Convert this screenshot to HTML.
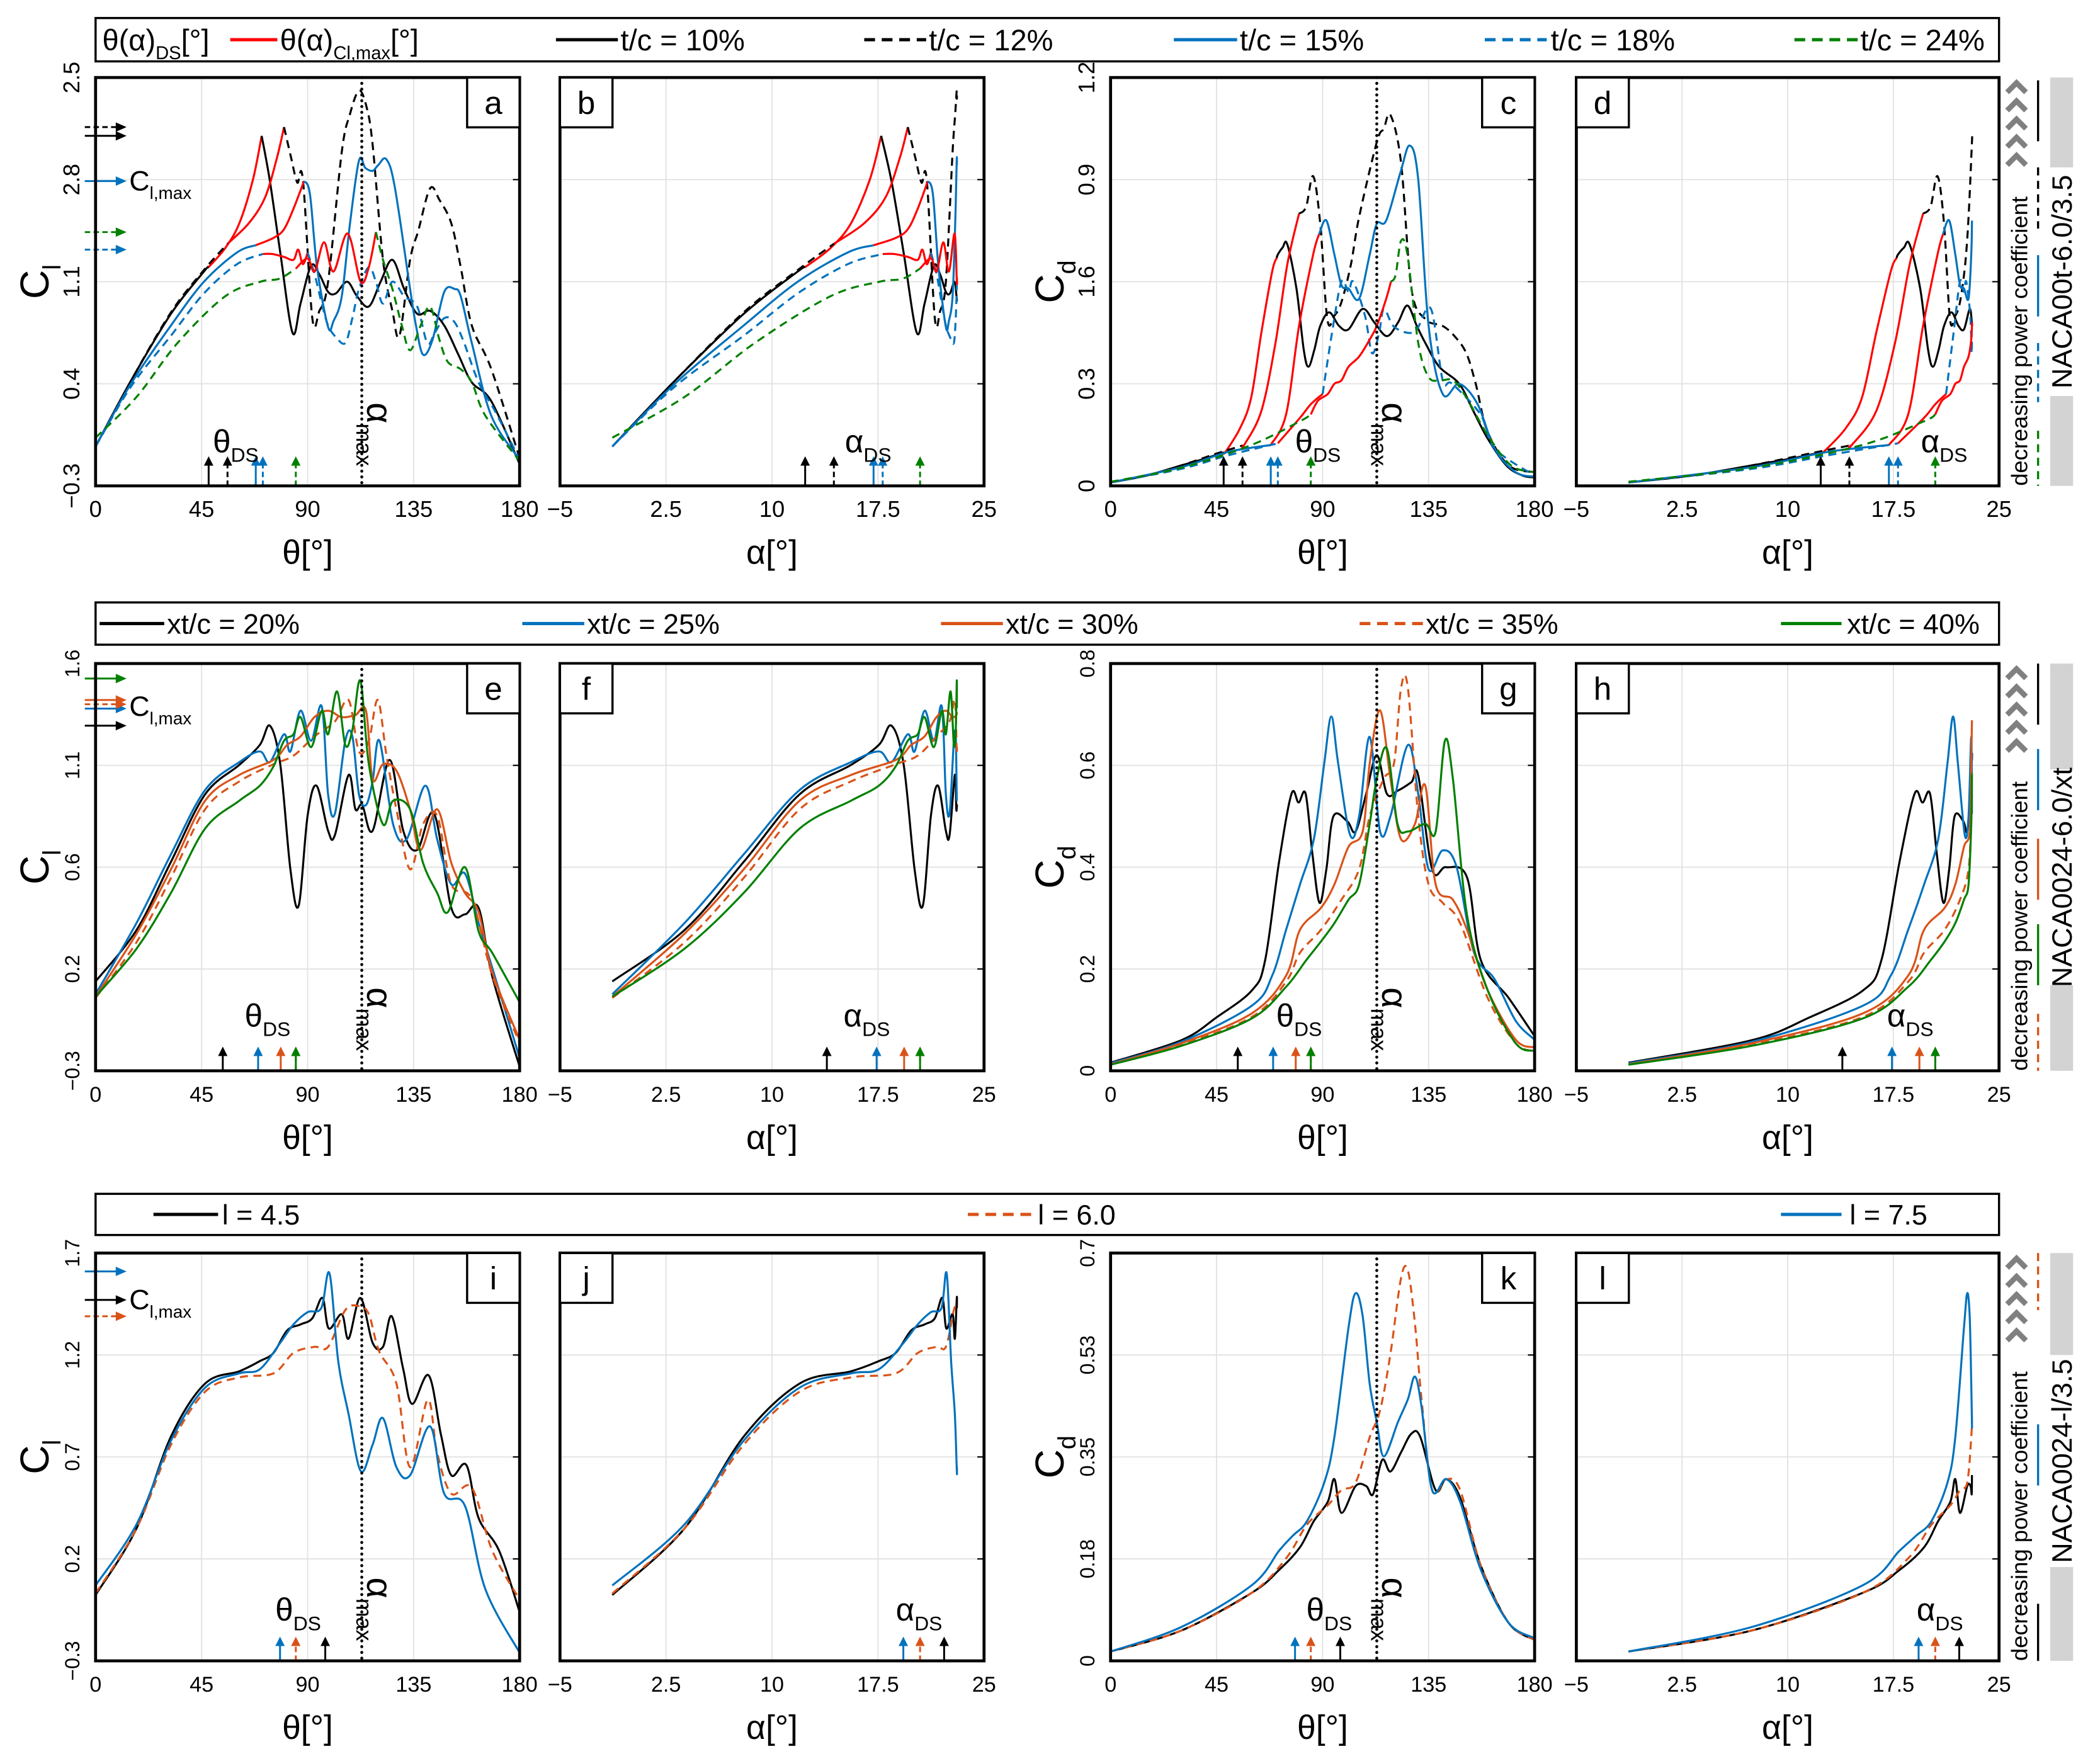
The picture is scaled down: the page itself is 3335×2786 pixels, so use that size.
<!DOCTYPE html>
<html>
<head>
<meta charset="utf-8">
<style>
html,body{margin:0;padding:0;background:#fff;}
svg{display:block;font-family:"Liberation Sans",Arial,sans-serif;}
</style>
</head>
<body>
<svg id="fig" xmlns="http://www.w3.org/2000/svg" width="3335" height="2786" viewBox="0 0 1560 1303.2" preserveAspectRatio="none">
<rect x="0" y="0" width="1560" height="1303.2" fill="#fff"/>
</svg>
<script>
// ===================== DATA =====================
// Row 1 (t/c variation) - lift coefficient vs azimuth theta
const cl_t10_th = [0,15,32,46,48,55,61,66.8,70.5,74,78.4,83.6,87,91.5,95,98.7,102,106.8,111,116,121,126,131,136.5,142,148,154,159.7,168,180];
const cl_t10 = [-0.03,0.42,0.88,1.17,1.2,1.33,1.5,1.8,2.1,1.79,1.3,0.75,0.95,1.21,1.15,1.03,1.02,1.1,1.0,0.93,1.1,1.25,1.05,0.88,0.9,0.8,0.6,0.41,0.28,-0.15];
const cl_t12_th = [0,15,32,46,56,65,72,77,80,83,85.6,88,92,95,98.7,104.5,108,111.8,115,117.6,122,126,129,133.5,137,142,146,151,155,159.7,168,180];
const cl_t12 = [-0.03,0.42,0.89,1.18,1.36,1.5,1.68,1.95,2.16,1.95,1.78,1.8,0.85,0.9,1.1,1.99,2.25,2.41,2.3,2.04,1.25,0.9,0.73,1.25,1.45,1.74,1.66,1.5,1.2,0.8,0.5,-0.11];
const cl_t15_th = [0,15,32,46,60,68,75.5,80,84,88.5,91,94,98.7,101,104.5,108,111.8,114.5,117.6,120,123.4,127,133.5,136,139,143,148,152.4,155,159.7,168,180];
const cl_t15 = [-0.03,0.4,0.8,1.1,1.3,1.35,1.4,1.46,1.6,1.79,1.7,1.2,0.79,0.83,1.0,1.5,1.93,1.88,1.86,1.9,1.94,1.75,1.05,0.8,0.6,0.7,1.03,1.05,1.0,0.68,0.18,-0.12];
const cl_t18_th = [0,15,32,46,60,71,75,80,84,86,88,90,93,96,98.7,102,106,109,111.8,116,119,122,126,131,136.5,140.8,144,148,152,156,162.6,170,180];
const cl_t18 = [-0.03,0.38,0.73,1.02,1.22,1.29,1.29,1.27,1.25,1.32,1.22,1.3,1.15,0.95,0.8,0.72,0.68,0.85,1.05,1.2,1.1,0.95,1.1,1.0,0.93,0.68,0.75,0.85,0.83,0.7,0.41,0.2,-0.12];
const cl_t24_th = [0,17.4,34.8,55,70,78,85,90,93,97,101,107,112.5,116,119,122,126,130,133.5,138,142,146,149.5,155,159.7,165.5,180];
const cl_t24 = [0.03,0.31,0.68,1.0,1.1,1.12,1.19,1.26,1.17,1.37,1.17,1.43,1.1,1.2,1.44,1.25,1.05,0.8,0.63,0.8,0.93,0.7,0.55,0.5,0.41,0.18,-0.13];
// Row 1 - drag coefficient
const cd_t10_th = [0,15,30,40,48.8,55,59.7,64,68.6,71,73,75,78.9,82,84,86.5,89,92.8,97,101,107,112,117.3,122,126,130,133.6,139.5,148,154,160,168,175,180];
const cd_t10 = [0.01,0.03,0.06,0.08,0.1,0.17,0.26,0.45,0.63,0.68,0.7,0.71,0.58,0.4,0.35,0.4,0.47,0.51,0.47,0.46,0.52,0.48,0.44,0.48,0.53,0.47,0.42,0.35,0.3,0.22,0.14,0.06,0.03,0.025];
const cd_t12_th = [0,15,30,45,56.7,64,70,75,80,83,86,89,92,95,98,102,105.5,113,116,118.8,123.3,127.7,133.6,141,146,151,155,160,169,180];
const cd_t12 = [0.01,0.03,0.06,0.095,0.12,0.22,0.42,0.65,0.8,0.82,0.91,0.77,0.49,0.5,0.54,0.65,0.79,1.01,1.05,1.09,0.95,0.58,0.49,0.47,0.44,0.39,0.3,0.16,0.06,0.04];
const cd_t15_th = [0,30,50,68,74.5,80,86,88.5,91.6,95,98,101,105.5,110,113,117,123,127,130.6,135,141,148,155.8,163,172,180];
const cd_t15 = [0.01,0.055,0.1,0.12,0.21,0.47,0.68,0.74,0.78,0.68,0.59,0.58,0.55,0.68,0.77,0.78,0.92,1.0,0.9,0.47,0.27,0.3,0.24,0.11,0.04,0.027];
const cd_t18_th = [0,30,50,71,80.4,85,90,94,98,101,103,108,111,114,116,120,126,130,136,141,145,157,163,180];
const cd_t18 = [0.01,0.05,0.09,0.125,0.2,0.24,0.27,0.45,0.6,0.57,0.6,0.5,0.39,0.45,0.52,0.47,0.45,0.46,0.52,0.31,0.3,0.21,0.11,0.03];
const cd_t24_th = [0,30,59.7,80.4,85,88,92.2,95,98,101,105.5,110,113,117,119,121,123.3,126,130.6,135,140,145.4,151,160,170,180];
const cd_t24 = [0.012,0.053,0.12,0.19,0.21,0.25,0.27,0.3,0.31,0.35,0.38,0.43,0.47,0.55,0.6,0.62,0.72,0.68,0.42,0.32,0.31,0.31,0.26,0.15,0.06,0.04];
const ds_row1 = [48,56,68,71,85];
const clmaxTheta_row1 = [70.5,80,88.5,90,119];
const clmaxVal_row1 = [2.10,2.16,1.79,1.32,1.44];

// Row 2 (xt/c variation)
const e_x20_th = [0,17.4,32,46.5,61,69.7,74,78.4,82.7,86.2,90,93.8,98.7,101.6,107.4,110.3,113.2,117.6,124.8,130.6,136.5,143.7,151,156.8,162.6,168.4,180];
const e_x20 = [0.117,0.357,0.675,0.99,1.127,1.22,1.31,1.13,0.64,0.47,0.89,1.03,0.82,0.8,1.08,0.92,0.94,0.82,1.15,0.82,0.73,0.9,0.46,0.43,0.46,0.14,-0.28];
const e_x25_th = [0,17.4,32,46.5,61,69.7,74,80,82.7,87,91.5,96,98.7,101.6,106,109,111.8,114.8,117.6,120.5,126.3,132,140,145,151,156.8,162.6,168.4,180];
const e_x25 = [0.057,0.39,0.71,1.01,1.14,1.19,1.14,1.27,1.19,1.38,1.24,1.4,0.99,0.9,1.24,1.26,0.99,0.94,1.05,1.24,0.85,0.78,1.03,0.78,0.57,0.62,0.39,0.18,-0.24];
const e_x30_th = [0,17.4,32,46.5,61,75.5,81.3,87,92.9,98.7,104.5,110.3,114.8,117.6,122,127.7,133.5,137.9,145,151,156.8,162.6,168.4,180];
const e_x30 = [0.046,0.34,0.64,0.96,1.08,1.15,1.22,1.26,1.35,1.38,1.35,1.36,1.38,1.06,1.13,1.1,0.92,0.73,0.92,0.67,0.53,0.44,0.16,-0.155];
const e_x35_th = [0,17.4,32,46.5,61,75.5,84,92.9,101.6,107.4,111.8,116,119.8,123.5,127.7,133.5,139,145,151,159.7,168.4,180];
const e_x35 = [0.04,0.3,0.6,0.92,1.05,1.13,1.17,1.26,1.33,1.43,1.19,1.24,1.43,1.17,0.92,0.64,0.85,0.89,0.57,0.5,0.145,-0.17];
const e_x40_th = [0,17.4,32,46.5,61,69.7,75.5,80,84,87,91.5,96,98.7,102.5,106,109,112.4,116,122,126.3,133.5,139,145,149.5,156.8,162.6,168.4,180];
const e_x40 = [0.046,0.27,0.53,0.83,0.96,1.03,1.12,1.24,1.27,1.35,1.21,1.38,1.27,1.47,1.22,1.29,1.52,1.13,0.85,0.96,0.92,0.67,0.53,0.44,0.65,0.35,0.25,0.02];
const g_x20_th = [0,30,45,60,65.6,71.5,76.8,79.8,82.8,85.7,88.7,91.6,94.6,100.5,104,108.5,113,117.3,121.8,127.7,130.6,136.5,142.4,151.3,157.2,169,180];
const g_x20 = [0.016,0.06,0.105,0.158,0.217,0.41,0.544,0.527,0.544,0.425,0.33,0.396,0.5,0.49,0.47,0.544,0.62,0.544,0.55,0.567,0.58,0.396,0.4,0.38,0.217,0.143,0.068];
const g_x25_th = [0,30,60,68.6,74.5,80.4,86.3,90.7,93.7,96.6,101.7,105.5,110,114.4,118.8,126.2,130.6,135,141,146.9,154.3,163,172,180];
const g_x25 = [0.015,0.057,0.128,0.187,0.277,0.366,0.455,0.604,0.696,0.604,0.463,0.5,0.656,0.47,0.5,0.64,0.544,0.396,0.433,0.4,0.232,0.18,0.098,0.061];
const g_x30_th = [0,30,60,74.5,80.4,89.3,95,101,107,110,114.4,118.8,123.3,129.2,133.6,138,145.3,151.3,160.1,172,180];
const g_x30 = [0.013,0.054,0.113,0.187,0.277,0.32,0.366,0.44,0.47,0.604,0.708,0.574,0.455,0.485,0.56,0.366,0.336,0.277,0.158,0.061,0.046];
const g_x35_th = [0,30,60,74.5,80.4,89.3,98,105.5,110,116,120.3,123.3,126.2,130.6,135,141,148.4,160.1,172,180];
const g_x35 = [0.012,0.051,0.106,0.175,0.232,0.277,0.336,0.396,0.5,0.574,0.604,0.752,0.752,0.5,0.366,0.33,0.29,0.143,0.054,0.039];
const g_x40_th = [0,30,60,74.5,83,89.3,95,101,105.5,110,113,117.3,121.8,126.2,133.6,138,141.9,145.3,151.3,160.1,172,180];
const g_x40 = [0.012,0.049,0.103,0.165,0.217,0.254,0.29,0.336,0.366,0.485,0.574,0.633,0.485,0.47,0.485,0.47,0.648,0.574,0.306,0.158,0.054,0.039];
const ds_row2 = [54,69,78.6,85,85];
const clmaxVal_row2 = [1.31,1.39,1.43,1.41,1.53];

// Row 3 (l variation)
const i_l45_th = [0,17.4,32,46.5,61,69.7,75.5,81.3,87,92,96.3,99,104.5,107.4,112.4,117.6,122,125.7,130.6,134.4,141.4,146.6,151,157.4,162.6,171.3,180];
const i_l45 = [0.023,0.35,0.8,1.06,1.12,1.17,1.21,1.32,1.35,1.38,1.48,1.33,1.4,1.28,1.48,1.26,1.24,1.39,1.13,0.96,1.1,0.81,0.61,0.66,0.4,0.24,-0.06];
const i_l60_th = [0,17.4,32,46.5,61,75.5,84,92.9,98.7,106,111.8,116,120.3,127.7,133.5,141,145,151,159.7,168.4,180];
const i_l60 = [0.03,0.35,0.76,1.02,1.09,1.11,1.21,1.24,1.24,1.42,1.44,1.4,1.22,1.06,0.65,0.98,0.72,0.52,0.55,0.24,0.0];
const i_l75_th = [0,17.4,32,46.5,61,69.7,78.4,84,90,95.8,99.3,103,107.4,112.6,117.6,122,127.7,133.5,142,148,156.8,165.5,180];
const i_l75 = [0.07,0.37,0.78,1.04,1.11,1.13,1.26,1.35,1.41,1.43,1.6,1.17,0.91,0.63,0.76,0.89,0.65,0.61,0.85,0.52,0.46,0.05,-0.26];
const k_l45_th = [0,30,60,71.5,80.4,86.3,92.2,95,98,104,108.5,111.4,115.3,118.8,123.3,127.7,131.5,138,142.5,148.4,157.2,169,180];
const k_l45 = [0.016,0.052,0.117,0.156,0.195,0.24,0.273,0.312,0.254,0.3,0.3,0.286,0.345,0.325,0.358,0.39,0.384,0.293,0.312,0.28,0.163,0.065,0.036];
const k_l60_th = [0,30,60,74.5,83.4,92.2,98,104,110,114.4,118.8,123.3,126.2,129.2,132,136.5,142.5,148.4,157.2,169,180];
const k_l60 = [0.016,0.052,0.117,0.176,0.234,0.267,0.293,0.306,0.384,0.43,0.527,0.657,0.67,0.579,0.449,0.293,0.312,0.293,0.163,0.065,0.036];
const k_l75_th = [0,30,60,71.5,77.4,83.4,90.7,95,101,104,107,110,113,116,122,126.2,129.2,132,136.5,142.5,148.4,157.2,169,180];
const k_l75 = [0.016,0.058,0.13,0.189,0.215,0.24,0.306,0.384,0.572,0.631,0.592,0.475,0.41,0.351,0.41,0.449,0.488,0.436,0.293,0.312,0.273,0.156,0.065,0.039];
const ds_row3 = [97.5,85,78.3];
const clmaxVal_row3 = [1.47,1.39,1.61];

// Axis tick labels
const thetaTicks = [0,45,90,135,180];
const alphaTicks = [-5,2.5,10,17.5,25];
const alphaTickLabels = ["\u22125","2.5","10","17.5","25"];
const yLabels_row1_cl = ["\u22120.3","0.4","1.1","2.8","2.5"];
const yLabels_row1_cd = ["0","0.3","1.6","0.9","1.2"];
const yLabels_row2_cl = ["\u22120.3","0.2","0.6","1.1","1.6"];
const yLabels_row2_cd = ["0","0.2","0.4","0.6","0.8"];
const yLabels_row3_cl = ["\u22120.3","0.2","0.7","1.2","1.7"];
const yLabels_row3_cd = ["0","0.18","0.35","0.53","0.7"];
const LAMBDA = 2.5;

// ===================== RENDER =====================
const NS = 'http://www.w3.org/2000/svg';
const svg = document.getElementById('fig');
const BLUE = '#0072BD', ORANGE = '#D95319', GREEN = '#008000', RED = '#FF0000';
const DASH = '6,4';
const THETA_AMAX = Math.acos(-1 / LAMBDA) * 180 / Math.PI;
const ALPHA_MAX_RAW = Math.asin(1 / LAMBDA) * 180 / Math.PI;
function alphaOf(th) {
  const r = th * Math.PI / 180;
  const a = Math.atan2(Math.sin(r), LAMBDA + Math.cos(r)) * 180 / Math.PI;
  return a - 1.3 + 0.8 * a / ALPHA_MAX_RAW;
}
function mk(tag, attrs, parent) {
  const e = document.createElementNS(NS, tag);
  for (const k in attrs) e.setAttribute(k, attrs[k]);
  (parent || svg).appendChild(e);
  return e;
}
function rich(parent, x, y, parts, size, anchor, transform) {
  const t = mk('text', {x: x, y: y, 'font-size': size, 'text-anchor': anchor || 'start', fill: '#000'}, parent);
  if (transform) t.setAttribute('transform', transform);
  let sub = false;
  parts.forEach(p => {
    const s = mk('tspan', {}, t);
    if (p.sub && !sub) { s.setAttribute('dy', size * 0.3); sub = true; }
    else if (!p.sub && sub) { s.setAttribute('dy', -size * 0.3); sub = false; }
    if (p.sub) s.setAttribute('font-size', size * 0.62);
    s.textContent = p.t;
  });
  return t;
}
function smooth(pts) {
  if (pts.length < 2) return '';
  let d = 'M' + pts[0][0].toFixed(2) + ',' + pts[0][1].toFixed(2);
  for (let i = 0; i < pts.length - 1; i++) {
    const p0 = pts[i - 1] || pts[i], p1 = pts[i], p2 = pts[i + 1], p3 = pts[i + 2] || p2;
    const c1 = [p1[0] + (p2[0] - p0[0]) / 6, p1[1] + (p2[1] - p0[1]) / 6];
    const c2 = [p2[0] - (p3[0] - p1[0]) / 6, p2[1] - (p3[1] - p1[1]) / 6];
    d += 'C' + c1[0].toFixed(2) + ',' + c1[1].toFixed(2) + ' ' + c2[0].toFixed(2) + ',' + c2[1].toFixed(2) + ' ' + p2[0].toFixed(2) + ',' + p2[1].toFixed(2);
  }
  return d;
}
function interp(th, v, t) {
  for (let i = 0; i < th.length - 1; i++) {
    if (t >= th[i] && t <= th[i + 1]) {
      const f = (t - th[i]) / (th[i + 1] - th[i] || 1);
      return v[i] + f * (v[i + 1] - v[i]);
    }
  }
  return v[v.length - 1];
}
function range(th, v, lo, hi) {
  const out = [[lo, interp(th, v, lo)]];
  for (let i = 0; i < th.length; i++) if (th[i] > lo && th[i] < hi) out.push([th[i], v[i]]);
  out.push([hi, interp(th, v, hi)]);
  return out;
}

const ROWS = [
  {ly0: 13.4, ly1: 45.6, y0: 57.6, y1: 361, arrow: 22, lab: 25},
  {ly0: 447.6, ly1: 479, y0: 493, y1: 795.6, arrow: 18, lab: 33},
  {ly0: 887, ly1: 917.6, y0: 931, y1: 1234, arrow: 18, lab: 30}
];
const COLS = [[71, 386], [416, 731], [825, 1140], [1171, 1485]];

function drawPanel(p) {
  const row = ROWS[p.row];
  const x0 = COLS[p.col][0], x1 = COLS[p.col][1], y0 = row.y0, y1 = row.y1;
  const isTheta = p.kind === 'theta';
  const xMin = isTheta ? 0 : -5, xMax = isTheta ? 180 : 25;
  const X = v => x0 + (v - xMin) / (xMax - xMin) * (x1 - x0);
  const Y = v => y1 - (v - p.yMin) / (p.yMax - p.yMin) * (y1 - y0);
  const g = mk('g', {});
  
  
  const ticks = isTheta ? thetaTicks : alphaTicks;
  ticks.forEach((t, i) => {
    const gl = mk('line', {x1: X(t), x2: X(t), y1: y0, y2: y1, stroke: '#e3e3e3', 'stroke-width': 0.9}, g);
    
    
    const tl = mk('text', {x: X(t), y: y1 + 23, 'font-size': p.row === 0 ? 17 : 16, 'text-anchor': 'middle'}, g);
    tl.textContent = isTheta ? String(t) : alphaTickLabels[i];
    
    
  });
  p.yLabels.forEach((lab, i) => {
    const yy = y1 - i / 4 * (y1 - y0);
    const gl = mk('line', {x1: x0, x2: x1, y1: yy, y2: yy, stroke: '#e3e3e3', 'stroke-width': 0.9}, g);
    
    
    const tk = mk('line', {x1: x1 - 5, x2: x1, y1: yy, y2: yy, stroke: '#000', 'stroke-width': 1}, g);
    
    
    if (isTheta) {
      const tl = mk('text', {x: 0, y: 0, 'font-size': p.row === 0 ? 17 : 15, 'text-anchor': 'middle', transform: 'translate(' + (x0 - 12) + ',' + yy + ') rotate(-90)'}, g);
      tl.textContent = lab;
      
      
    }
  });
  const cp = mk('clipPath', {id: 'clip-' + p.letter}, g);
  mk('rect', {x: x0, y: y0 - 2, width: x1 - x0, height: y1 - y0 + 2}, cp);
  const cg = mk('g', {'clip-path': 'url(#clip-' + p.letter + ')'}, g);
  
  
  if (isTheta) {
    const dl = mk('line', {x1: X(113), x2: X(113), y1: y0, y2: y1, stroke: '#000', 'stroke-width': 2.2, 'stroke-dasharray': '0.1,4.2', 'stroke-linecap': 'round'}, g);
    
    
    const am = rich(g, 0, 0, [{t: '\u03b1'}, {t: 'max', sub: true}], 27, 'start', 'translate(' + (X(113) + 4) + ',' + (y1 - 62) + ') rotate(90)');
    
    
  }
  const tEnd = isTheta ? 180 : THETA_AMAX;
  const toXY = pts => pts.map(q => [X(isTheta ? q[0] : alphaOf(q[0])), Y(q[1])]);
  p.series.forEach((s, si) => {
    const segs = [];
    if (s.red) {
      const a = s.red[0], b = Math.min(s.red[1], tEnd);
      segs.push({pts: range(s.th, s.v, 0, a), red: false});
      segs.push({pts: range(s.th, s.v, a, b), red: true});
      if (b < tEnd) segs.push({pts: range(s.th, s.v, b, tEnd), red: false});
    } else {
      segs.push({pts: range(s.th, s.v, 0, tEnd), red: false});
    }
    segs.forEach(sg => {
      const path = mk('path', {d: smooth(toXY(sg.pts)), fill: 'none', stroke: sg.red ? RED : s.color, 'stroke-width': 1.5, 'stroke-linejoin': 'round'}, cg);
      if (s.dash && !sg.red) path.setAttribute('stroke-dasharray', DASH);
      
      
    });
  });
  p.series.forEach((s, si) => {
    const ds = p.ds[si];
    const ax = X(isTheta ? ds : alphaOf(ds));
    const top = y1 - row.arrow;
    const ln = mk('line', {x1: ax, x2: ax, y1: y1, y2: top + 5, stroke: s.color, 'stroke-width': 1.4}, g);
    if (s.dash) ln.setAttribute('stroke-dasharray', '4,2.5');
    
    
    const hd = mk('polygon', {points: (ax - 3.5) + ',' + (top + 7) + ' ' + (ax + 3.5) + ',' + (top + 7) + ' ' + ax + ',' + top, fill: s.color}, g);
    
    
  });
  const dl = rich(g, X(p.dsLabelAt), y1 - row.lab, [{t: isTheta ? '\u03b8' : '\u03b1'}, {t: 'DS', sub: true}], 24, 'middle');
  
  
  if (p.clmax) {
    p.series.forEach((s, si) => {
      const yy = Y(p.clmax[si]);
      const ln = mk('line', {x1: x0 - 8, x2: x0 + 16, y1: yy, y2: yy, stroke: s.color, 'stroke-width': 1.4}, g);
      if (s.dash) ln.setAttribute('stroke-dasharray', '4,2.5');
      
      
      const hd = mk('polygon', {points: (x0 + 15) + ',' + (yy - 3.5) + ' ' + (x0 + 15) + ',' + (yy + 3.5) + ' ' + (x0 + 23) + ',' + yy, fill: s.color}, g);
      
      
    });
    const cl = rich(g, x0 + 25, Y(p.clmaxLabelAt) + 7, [{t: 'C'}, {t: 'l,max', sub: true}], 21, 'start');
    
    
  }
  const fr = mk('rect', {x: x0, y: y0, width: x1 - x0, height: y1 - y0, fill: 'none', stroke: '#000', 'stroke-width': 2.2}, g);
  
  
  const bx = isTheta ? x1 - 39 : x0;
  const lb = mk('rect', {x: bx, y: y0, width: 39, height: 37, fill: '#fff', stroke: '#000', 'stroke-width': 1.6}, g);
  
  
  const lt = mk('text', {x: bx + 19.5, y: y0 + 27, 'font-size': 24, 'text-anchor': 'middle'}, g);
  lt.textContent = p.letter;
  
  
  const xt = rich(g, (x0 + x1) / 2, y1 + 58, [{t: isTheta ? '\u03b8[\u00b0]' : '\u03b1[\u00b0]'}], 25, 'middle');
  
  
  if (isTheta) {
    const yt = rich(g, 0, 0, [{t: 'C'}, {t: p.yTitleSub, sub: true}], 30, 'middle', 'translate(' + (x0 - 35) + ',' + ((y0 + y1) / 2) + ') rotate(-90)');
    
    
  }
}

const S = (name, th, v, color, dash, red) => ({name: name, th: th, v: v, color: color, dash: dash, red: red});
const r1cl = [
  S('tc-10', cl_t10_th, cl_t10, '#000', false, [ds_row1[0], clmaxTheta_row1[0]]),
  S('tc-12', cl_t12_th, cl_t12, '#000', true, [ds_row1[1], clmaxTheta_row1[1]]),
  S('tc-15', cl_t15_th, cl_t15, BLUE, false, [ds_row1[2], clmaxTheta_row1[2]]),
  S('tc-18', cl_t18_th, cl_t18, BLUE, true, [ds_row1[3], clmaxTheta_row1[3]]),
  S('tc-24', cl_t24_th, cl_t24, GREEN, true, [ds_row1[4], clmaxTheta_row1[4]])
];
const r1cd = [
  S('tc-10', cd_t10_th, cd_t10, '#000', false, [ds_row1[0], clmaxTheta_row1[0]]),
  S('tc-12', cd_t12_th, cd_t12, '#000', true, [ds_row1[1], clmaxTheta_row1[1]]),
  S('tc-15', cd_t15_th, cd_t15, BLUE, false, [ds_row1[2], clmaxTheta_row1[2]]),
  S('tc-18', cd_t18_th, cd_t18, BLUE, true, [ds_row1[3], clmaxTheta_row1[3]]),
  S('tc-24', cd_t24_th, cd_t24, GREEN, true, [ds_row1[4], clmaxTheta_row1[4]])
];
const r2cl = [
  S('xtc-20', e_x20_th, e_x20, '#000', false, null),
  S('xtc-25', e_x25_th, e_x25, BLUE, false, null),
  S('xtc-30', e_x30_th, e_x30, ORANGE, false, null),
  S('xtc-35', e_x35_th, e_x35, ORANGE, true, null),
  S('xtc-40', e_x40_th, e_x40, GREEN, false, null)
];
const r2cd = [
  S('xtc-20', g_x20_th, g_x20, '#000', false, null),
  S('xtc-25', g_x25_th, g_x25, BLUE, false, null),
  S('xtc-30', g_x30_th, g_x30, ORANGE, false, null),
  S('xtc-35', g_x35_th, g_x35, ORANGE, true, null),
  S('xtc-40', g_x40_th, g_x40, GREEN, false, null)
];
const r3cl = [
  S('l-4-5', i_l45_th, i_l45, '#000', false, null),
  S('l-6-0', i_l60_th, i_l60, ORANGE, true, null),
  S('l-7-5', i_l75_th, i_l75, BLUE, false, null)
];
const r3cd = [
  S('l-4-5', k_l45_th, k_l45, '#000', false, null),
  S('l-6-0', k_l60_th, k_l60, ORANGE, true, null),
  S('l-7-5', k_l75_th, k_l75, BLUE, false, null)
];

drawPanel({letter: 'a', row: 0, col: 0, kind: 'theta', yMin: -0.3, yMax: 2.5, yLabels: yLabels_row1_cl, yTitleSub: 'l', series: r1cl, ds: ds_row1, dsLabelAt: 59.5, clmax: clmaxVal_row1, clmaxLabelAt: 1.79});
drawPanel({letter: 'b', row: 0, col: 1, kind: 'alpha', yMin: -0.3, yMax: 2.5, yLabels: yLabels_row1_cl, series: r1cl, ds: ds_row1, dsLabelAt: 16.8});
drawPanel({letter: 'c', row: 0, col: 2, kind: 'theta', yMin: 0, yMax: 1.2, yLabels: yLabels_row1_cd, yTitleSub: 'd', series: r1cd, ds: ds_row1, dsLabelAt: 88});
drawPanel({letter: 'd', row: 0, col: 3, kind: 'alpha', yMin: 0, yMax: 1.2, yLabels: yLabels_row1_cd, series: r1cd, ds: ds_row1, dsLabelAt: 21.1});
drawPanel({letter: 'e', row: 1, col: 0, kind: 'theta', yMin: -0.3, yMax: 1.6, yLabels: yLabels_row2_cl, yTitleSub: 'l', series: r2cl, ds: ds_row2, dsLabelAt: 73, clmax: clmaxVal_row2, clmaxLabelAt: 1.40});
drawPanel({letter: 'f', row: 1, col: 1, kind: 'alpha', yMin: -0.3, yMax: 1.6, yLabels: yLabels_row2_cl, series: r2cl, ds: ds_row2, dsLabelAt: 16.7});
drawPanel({letter: 'g', row: 1, col: 2, kind: 'theta', yMin: 0, yMax: 0.8, yLabels: yLabels_row2_cd, yTitleSub: 'd', series: r2cd, ds: ds_row2, dsLabelAt: 80});
drawPanel({letter: 'h', row: 1, col: 3, kind: 'alpha', yMin: 0, yMax: 0.8, yLabels: yLabels_row2_cd, series: r2cd, ds: ds_row2, dsLabelAt: 18.7});
drawPanel({letter: 'i', row: 2, col: 0, kind: 'theta', yMin: -0.3, yMax: 1.7, yLabels: yLabels_row3_cl, yTitleSub: 'l', series: r3cl, ds: ds_row3, dsLabelAt: 86, clmax: clmaxVal_row3, clmaxLabelAt: 1.47});
drawPanel({letter: 'j', row: 2, col: 1, kind: 'alpha', yMin: -0.3, yMax: 1.7, yLabels: yLabels_row3_cl, series: r3cl, ds: ds_row3, dsLabelAt: 20.4});
drawPanel({letter: 'k', row: 2, col: 2, kind: 'theta', yMin: 0, yMax: 0.7, yLabels: yLabels_row3_cd, yTitleSub: 'd', series: r3cd, ds: ds_row3, dsLabelAt: 92.8});
drawPanel({letter: 'l', row: 2, col: 3, kind: 'alpha', yMin: 0, yMax: 0.7, yLabels: yLabels_row3_cd, series: r3cd, ds: ds_row3, dsLabelAt: 20.8});

// ===================== LEGENDS =====================
function legend(rowIdx, items, size, name) {
  const row = ROWS[rowIdx];
  const g = mk('g', {});
  
  
  const box = mk('rect', {x: 71, y: row.ly0, width: 1414, height: row.ly1 - row.ly0, fill: '#fff', stroke: '#000', 'stroke-width': 1.6}, g);
  
  
  const cy = (row.ly0 + row.ly1) / 2;
  items.forEach(it => {
    if (it.line) {
      const l = mk('line', {x1: it.x1, x2: it.x2, y1: cy, y2: cy, stroke: it.color, 'stroke-width': 2.4}, g);
      if (it.dash) l.setAttribute('stroke-dasharray', '8,5');
      
      
    } else {
      const t = rich(g, it.x, cy + size * 0.36, it.parts, size, 'start');
      
      
    }
  });
}
legend(0, [
  {x: 76, parts: [{t: '\u03b8(\u03b1)'}, {t: 'DS', sub: true}, {t: '[\u00b0]'}]},
  {line: 1, x1: 171, x2: 206, color: RED},
  {x: 208, parts: [{t: '\u03b8(\u03b1)'}, {t: 'Cl,max', sub: true}, {t: '[\u00b0]'}]},
  {line: 1, x1: 413, x2: 459, color: '#000'}, {x: 461, parts: [{t: 't/c = 10%'}]},
  {line: 1, x1: 642, x2: 688, color: '#000', dash: 1}, {x: 690, parts: [{t: 't/c = 12%'}]},
  {line: 1, x1: 872, x2: 919, color: BLUE}, {x: 921, parts: [{t: 't/c = 15%'}]},
  {line: 1, x1: 1103, x2: 1149, color: BLUE, dash: 1}, {x: 1152, parts: [{t: 't/c = 18%'}]},
  {line: 1, x1: 1333, x2: 1380, color: GREEN, dash: 1}, {x: 1382, parts: [{t: 't/c = 24%'}]}
], 22, 'legend-thickness');
legend(1, [
  {line: 1, x1: 74, x2: 122, color: '#000'}, {x: 124, parts: [{t: 'xt/c = 20%'}]},
  {line: 1, x1: 388, x2: 434, color: BLUE}, {x: 436, parts: [{t: 'xt/c = 25%'}]},
  {line: 1, x1: 699, x2: 745, color: ORANGE}, {x: 747, parts: [{t: 'xt/c = 30%'}]},
  {line: 1, x1: 1010, x2: 1057, color: ORANGE, dash: 1}, {x: 1059, parts: [{t: 'xt/c = 35%'}]},
  {line: 1, x1: 1323, x2: 1368, color: GREEN}, {x: 1372, parts: [{t: 'xt/c = 40%'}]}
], 21, 'legend-thickness-position');
legend(2, [
  {line: 1, x1: 114, x2: 162, color: '#000'}, {x: 165, parts: [{t: 'l = 4.5'}]},
  {line: 1, x1: 719, x2: 766, color: ORANGE, dash: 1}, {x: 771, parts: [{t: 'l = 6.0'}]},
  {line: 1, x1: 1323, x2: 1368, color: BLUE}, {x: 1374, parts: [{t: 'l = 7.5'}]}
], 21, 'legend-l');

// ===================== RIGHT ANNOTATIONS =====================
function annotation(rowIdx, label, segs, grayTop, grayBot) {
  const row = ROWS[rowIdx];
  const h = row.y1 - row.y0;
  const g = mk('g', {});
  
  
  const r1 = mk('rect', {x: 1523, y: row.y0, width: 17, height: h * grayTop, fill: '#d3d3d3'}, g);
  
  
  const r2 = mk('rect', {x: 1523, y: row.y0 + h * grayBot, width: 17, height: h * (1 - grayBot), fill: '#d3d3d3'}, g);
  
  
  for (let i = 0; i < 5; i++) {
    const yy = row.y0 + 1 + i * 13.5;
    const c = mk('polyline', {points: '1491,' + (yy + 10) + ' 1498,' + (yy + 3) + ' 1505,' + (yy + 10), fill: 'none', stroke: '#808080', 'stroke-width': 4}, g);
    
    
  }
  segs.forEach(s => {
    const l = mk('line', {x1: 1514, x2: 1514, y1: row.y0 + h * s.a, y2: row.y0 + h * s.b, stroke: s.color, 'stroke-width': 1.6}, g);
    if (s.dash) l.setAttribute('stroke-dasharray', '6,4');
    
    
  });
  const t1 = mk('text', {x: 0, y: 0, 'font-size': 17, 'text-anchor': 'start', transform: 'translate(1506,' + row.y1 + ') rotate(-90)'}, g);
  t1.textContent = 'decreasing power coefficient';
  
  
  const t2 = mk('text', {x: 0, y: 0, 'font-size': 21, 'text-anchor': 'middle', transform: 'translate(1539,' + (row.y0 + h * (grayTop + grayBot) / 2) + ') rotate(-90)'}, g);
  t2.textContent = label;
  
  
}
annotation(0, 'NACA00t-6.0/3.5', [
  {a: 0.007, b: 0.156, color: '#000'}, {a: 0.22, b: 0.37, color: '#000', dash: 1},
  {a: 0.435, b: 0.585, color: BLUE}, {a: 0.65, b: 0.795, color: BLUE, dash: 1},
  {a: 0.865, b: 1.0, color: GREEN, dash: 1}
], 0.22, 0.78);
annotation(1, 'NACA0024-6.0/xt', [
  {a: 0.0, b: 0.15, color: '#000'}, {a: 0.21, b: 0.36, color: BLUE},
  {a: 0.43, b: 0.58, color: ORANGE}, {a: 0.64, b: 0.79, color: GREEN},
  {a: 0.86, b: 1.0, color: ORANGE, dash: 1}
], 0.26, 0.79);
annotation(2, 'NACA0024-l/3.5', [
  {a: 0.0, b: 0.14, color: ORANGE, dash: 1}, {a: 0.42, b: 0.57, color: BLUE},
  {a: 0.86, b: 1.0, color: '#000'}
], 0.25, 0.77);
</script>
</body>
</html>
